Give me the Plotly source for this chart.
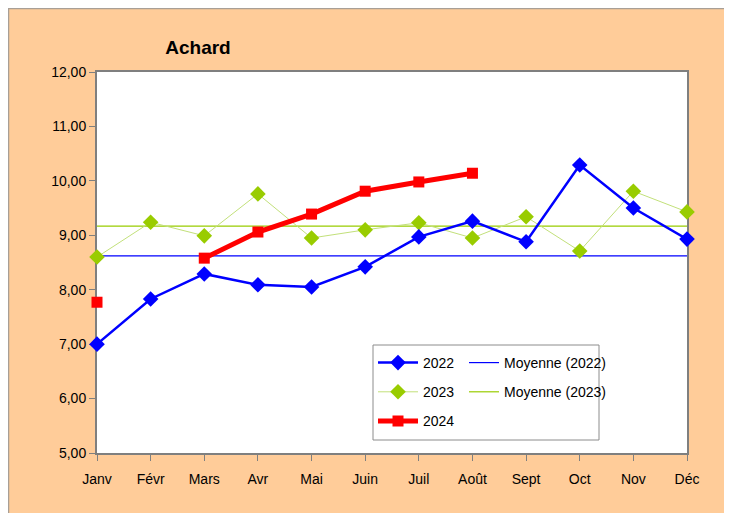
import plotly.graph_objects as go

months = ["Janv", "Févr", "Mars", "Avr", "Mai", "Juin", "Juil", "Août", "Sept", "Oct", "Nov", "Déc"]
v2022 = [7.00, 7.83, 8.29, 8.09, 8.05, 8.42, 8.97, 9.26, 8.88, 10.29, 9.50, 8.93]
v2023 = [8.60, 9.24, 8.99, 9.76, 8.95, 9.10, 9.23, 8.95, 9.34, 8.71, 9.81, 9.43]
v2024 = [7.77, None, 8.58, 9.06, 9.39, 9.81, 9.98, 10.14, None, None, None, None]
mean_2022 = 8.62
mean_2023 = 9.17
y_ticks = [5, 6, 7, 8, 9, 10, 11, 12]

BLUE = "#0000FF"
GREEN = "#99CC00"
GREEN_LINE = "#C2E07A"
RED = "#FF0000"
ORANGE = "#FFCC99"
NARROW = "Liberation Sans Narrow, Arial Narrow, Liberation Sans, Arial"
SANS = "Liberation Sans, Arial"

fig = go.Figure()

fig.add_trace(go.Scatter(
    x=months, y=[mean_2022] * len(months), name="Moyenne (2022)", mode="lines",
    line=dict(color=BLUE, width=1.2), legend="legend2", legendrank=1,
    legendgroup="m22", cliponaxis=False))
fig.add_trace(go.Scatter(
    x=months, y=[mean_2023] * len(months), name="Moyenne (2023)", mode="lines",
    line=dict(color=GREEN, width=1.2), legend="legend2", legendrank=2,
    legendgroup="m23", cliponaxis=False))
fig.add_trace(go.Scatter(
    x=months, y=v2023, name="2023", mode="lines+markers",
    line=dict(color=GREEN_LINE, width=1),
    marker=dict(symbol="diamond", size=12, color=GREEN, line=dict(width=0)),
    legendrank=2, legendgroup="a23", cliponaxis=False))
fig.add_trace(go.Scatter(
    x=months, y=v2022, name="2022", mode="lines+markers",
    line=dict(color=BLUE, width=2.5),
    marker=dict(symbol="diamond", size=12, color=BLUE, line=dict(width=0)),
    legendrank=1, legendgroup="a22", cliponaxis=False))
fig.add_trace(go.Scatter(
    x=months, y=v2024, name="2024", mode="lines+markers",
    line=dict(color=RED, width=5),
    marker=dict(symbol="square", size=11, color=RED, line=dict(width=0)),
    legendrank=3, legendgroup="a24", cliponaxis=False))

# The page body has an 8px margin: figure coords = screen coords - 8
OFF = 8
W, H = 732 - OFF, 513 - OFF
L, R, T, B = 97 - OFF, 687 - OFF, 72 - OFF, 453 - OFF
pw, ph = R - L, B - T

def px(x):
    return (x - OFF - L) / pw

def py(y):
    return (B - (y - OFF)) / ph

shapes = [
    dict(type="rect", xref="paper", yref="paper", layer="below",
         x0=px(8.5), x1=px(729), y0=py(530), y1=py(8.5),
         fillcolor=ORANGE, line=dict(color="#A89F96", width=1.5)),
    dict(type="rect", xref="paper", yref="paper", layer="below",
         x0=0, x1=1, y0=0, y1=1, fillcolor="white", line=dict(width=0)),
    dict(type="rect", xref="paper", yref="paper", layer="below",
         x0=px(373), x1=px(599), y0=py(440), y1=py(345),
         fillcolor="white", line=dict(color="#8C8C8C", width=1)),
]

fig.update_layout(
    width=W, height=H,
    margin=dict(l=L, r=W - R, t=T, b=H - B, pad=0),
    paper_bgcolor="white", plot_bgcolor="white",
    separators=", ",
    title=dict(text="<b>Achard</b>", x=(198 - OFF) / W, xref="container", xanchor="center",
               y=1 - (47 - OFF) / H, yref="container", yanchor="middle",
               font=dict(family=SANS, size=19, color="black")),
    shapes=shapes,
    showlegend=True,
    legend=dict(x=px(373), y=py(347), xanchor="left", yanchor="top",
                bgcolor="rgba(0,0,0,0)", borderwidth=0, tracegroupgap=8,
                traceorder="grouped", itemwidth=40,
                font=dict(family=NARROW, size=14, color="black")),
    legend2=dict(x=px(464), y=py(347), xanchor="left", yanchor="top",
                 bgcolor="rgba(0,0,0,0)", borderwidth=0, tracegroupgap=8,
                 traceorder="grouped", itemwidth=30,
                 font=dict(family=NARROW, size=14, color="black")),
    xaxis=dict(type="category", categoryorder="array", categoryarray=months,
               range=[0, len(months) - 1], showgrid=False, zeroline=False,
               showline=True, linecolor="#7F7F7F", linewidth=2, mirror=True,
               layer="below traces",
               ticks="outside", ticklen=6, tickcolor="#7F7F7F", tickwidth=1,
               ticklabelstandoff=6,
               tickfont=dict(family=SANS, size=14, color="black")),
    yaxis=dict(range=[5, 12], tickvals=y_ticks, tickformat=".2f",
               showgrid=False, zeroline=False,
               showline=True, linecolor="#7F7F7F", linewidth=2, mirror=True,
               layer="below traces",
               ticks="outside", ticklen=6, tickcolor="#7F7F7F", tickwidth=1,
               tickfont=dict(family=SANS, size=14, color="black")),
)

fig.write_html("out.html")
